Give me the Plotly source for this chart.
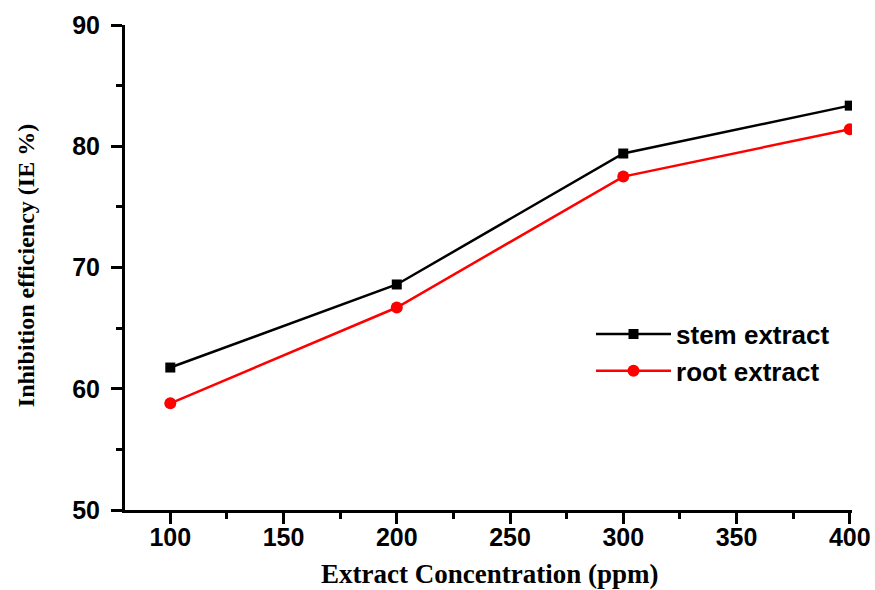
import plotly.graph_objects as go

concentration = [100, 200, 300, 400]
stem_extract = [61.75, 68.6, 79.4, 83.35]
root_extract = [58.8, 66.7, 77.5, 81.4]

x_ticks = [100, 150, 200, 250, 300, 350, 400]
y_ticks = [50, 60, 70, 80, 90]

fig = go.Figure()
fig.add_trace(go.Scatter(
    x=concentration, y=stem_extract, mode="lines+markers", name="stem extract",
    line=dict(color="black", width=2.5),
    marker=dict(symbol="square", size=10, color="black"),
))
fig.add_trace(go.Scatter(
    x=concentration, y=root_extract, mode="lines+markers", name="root extract",
    line=dict(color="#ff0000", width=2.5),
    marker=dict(symbol="circle", size=12, color="#ff0000"),
))

axis_common = dict(
    showline=True, linecolor="black", linewidth=3, mirror=False,
    showgrid=False, zeroline=False, automargin=False,
    ticks="outside", ticklen=11, tickwidth=2.5, tickcolor="black",
    tickfont=dict(family="Liberation Sans, Arial", size=25, color="black", weight="bold"),
)

title_serif = dict(family="Liberation Serif, Times New Roman", color="black", weight="bold")

fig.update_layout(
    width=875, height=590,
    margin=dict(l=125, r=23, t=25, b=80),
    plot_bgcolor="white", paper_bgcolor="white",
    xaxis=dict(
        range=[80, 401], tickvals=x_ticks, ticklabelstandoff=-8,
        minor=dict(tickvals=[125, 175, 225, 275, 325, 375], ticklen=6, tickwidth=2.5, tickcolor="black", ticks="outside"),
        **axis_common,
    ),
    yaxis=dict(
        range=[50, 90], tickvals=y_ticks, ticklabelstandoff=6,
        minor=dict(tickvals=[55, 65, 75, 85], ticklen=6, tickwidth=2.5, tickcolor="black", ticks="outside"),
        **axis_common,
    ),
    annotations=[
        dict(text="Extract Concentration (ppm)", xref="paper", yref="paper",
             x=0.501, y=-0.132, xanchor="center", yanchor="middle", showarrow=False,
             font=dict(size=27, **title_serif)),
        dict(text="Inhibition efficiency (IE %)", xref="paper", yref="paper",
             x=-0.136, y=0.503, xanchor="center", yanchor="middle", showarrow=False,
             textangle=-90, font=dict(size=24, **title_serif)),
    ],
    legend=dict(
        x=0.641, y=0.411, xanchor="left", yanchor="top",
        bgcolor="rgba(0,0,0,0)",
        font=dict(family="Liberation Sans, Arial", size=26, color="black", weight="bold"),
        itemwidth=75, tracegroupgap=0,
    ),
    showlegend=True,
)

fig.write_html(
    "out.html",
    config={"displayModeBar": False},
    post_script="document.body.style.margin='0';document.body.style.overflow='hidden';",
)
